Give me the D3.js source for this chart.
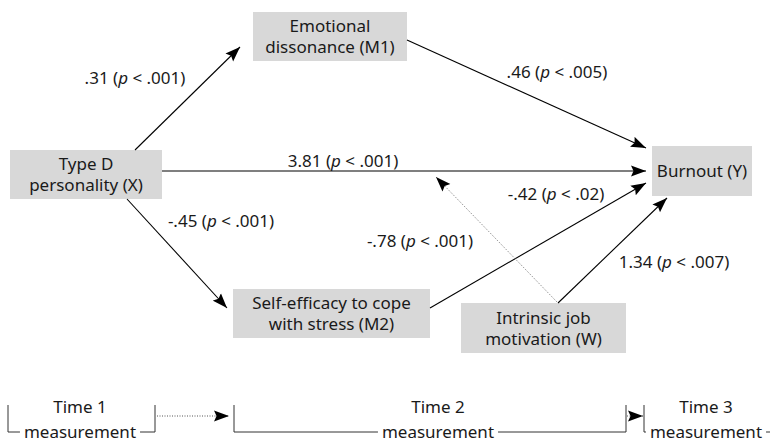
<!DOCTYPE html>
<html>
<head>
<meta charset="utf-8">
<script src="https://cdn.jsdelivr.net/npm/d3@7"></script>
<style>
  body { margin: 0; background: #fff; }
  svg text { font-family: "Noto Sans", sans-serif; font-size: 17px; fill: #1a1a1a; }
</style>
</head>
<body>
<div id="chart"></div>
<script>
// Variables in the moderated mediation model
const nodeIds = ['X', 'M1', 'M2', 'W', 'Y'];
const nodeLines = [
    ['Type D', 'personality (X)'],
    ['Emotional', 'dissonance (M1)'],
    ['Self-efficacy to cope', 'with stress (M2)'],
    ['Intrinsic job', 'motivation (W)'],
    ['Burnout (Y)']
];

// Paths and their coefficients
const pathFrom = ['X', 'M1', 'X', 'X', 'M2', 'W', 'W'];
const pathTo = ['M1', 'Y', 'Y', 'M2', 'Y', 'Y', 'XY'];
const pathCoef = ['.31', '.46', '3.81', '-.45', '-.42', '1.34', '-.78'];
const pathP = ['.001', '.005', '.001', '.001', '.02', '.007', '.001'];
const pathDotted = [false, false, false, false, false, false, true];

// Measurement times
const timeLabels = ['Time 1', 'Time 2', 'Time 3'];

// ---- layout (pixel positions, kept apart from the data) ----
const boxes = {
    X:  {x: 10,  y: 150, w: 152, h: 49},
    M1: {x: 253, y: 12,  w: 154, h: 49},
    M2: {x: 233, y: 289, w: 197, h: 49},
    W:  {x: 461, y: 303, w: 165, h: 50},
    Y:  {x: 652, y: 146, w: 100, h: 50}
};
const pathGeom = [
    {x1: 135, y1: 150, x2: 240, y2: 47,  lx: 135, ly: 84},
    {x1: 407, y1: 40,  x2: 646, y2: 148, lx: 557, ly: 78},
    {x1: 162, y1: 171, x2: 646, y2: 171, lx: 343, ly: 167},
    {x1: 127, y1: 199, x2: 227, y2: 308, lx: 221, ly: 227},
    {x1: 430, y1: 308, x2: 646, y2: 183, lx: 556, ly: 200},
    {x1: 558, y1: 303, x2: 667, y2: 198, lx: 674, ly: 268},
    {x1: 557, y1: 302, x2: 436, y2: 177, lx: 420, ly: 247}
];
const timeGeom = [
    {cx: 80,  left: 8,   right: 155, closed: true},
    {cx: 438, left: 234, right: 626, closed: true},
    {cx: 706, left: 644, right: 772, closed: false}
];

const width = 770, height = 442;
const svg = d3.select('#chart').append('svg')
    .attr('width', width)
    .attr('height', height);

// Arrowhead
svg.append('defs').append('marker')
    .attr('id', 'head')
    .attr('markerUnits', 'userSpaceOnUse')
    .attr('markerWidth', 16)
    .attr('markerHeight', 12)
    .attr('viewBox', '0 0 16 12')
    .attr('refX', 15)
    .attr('refY', 6)
    .attr('orient', 'auto')
    .append('path')
    .attr('d', 'M0,0.5 L15,6 L0,11.5 L2.5,6 Z')
    .attr('fill', '#000');

// Boxes
const nodes = svg.selectAll('g.node')
    .data(nodeIds)
    .enter()
    .append('g')
    .attr('class', 'node');

nodes.append('rect')
    .attr('x', d => boxes[d].x)
    .attr('y', d => boxes[d].y)
    .attr('width', d => boxes[d].w)
    .attr('height', d => boxes[d].h)
    .attr('fill', '#d8d8d8');

nodes.each(function(d, i) {
    const b = boxes[d];
    const lines = nodeLines[i];
    const cy = b.y + b.h / 2;
    const lh = 21;
    lines.forEach((t, j) => {
        d3.select(this).append('text')
            .attr('x', b.x + b.w / 2)
            .attr('y', cy + (j - (lines.length - 1) / 2) * lh + 6)
            .attr('text-anchor', 'middle')
            .text(t);
    });
});

// Paths
const paths = svg.selectAll('g.path')
    .data(pathCoef)
    .enter()
    .append('g')
    .attr('class', 'path');

paths.append('line')
    .attr('x1', (d, i) => pathGeom[i].x1)
    .attr('y1', (d, i) => pathGeom[i].y1)
    .attr('x2', (d, i) => pathGeom[i].x2)
    .attr('y2', (d, i) => pathGeom[i].y2)
    .attr('stroke', (d, i) => pathDotted[i] ? '#777' : '#000')
    .attr('stroke-width', (d, i) => pathDotted[i] ? 1 : 1.1)
    .attr('stroke-dasharray', (d, i) => pathDotted[i] ? '1,1.5' : null)
    .attr('marker-end', 'url(#head)');

const labels = paths.append('text')
    .attr('x', (d, i) => pathGeom[i].lx)
    .attr('y', (d, i) => pathGeom[i].ly)
    .attr('text-anchor', 'middle');
labels.append('tspan').text(d => d + ' (');
labels.append('tspan').attr('font-style', 'italic').text('p');
labels.append('tspan').text((d, i) => ' < ' + pathP[i] + ')');

// Timeline
const tl = svg.append('g').attr('class', 'timeline');
const yTop = 405, yBot = 432, yMid = 416;

timeLabels.forEach((t, i) => {
    const g = timeGeom[i];
    tl.append('text')
        .attr('x', g.cx).attr('y', 413)
        .attr('text-anchor', 'middle')
        .text(t);
    const m = tl.append('text')
        .attr('x', g.cx).attr('y', 438)
        .attr('text-anchor', 'middle')
        .text('measurement');
    const mw = m.node().getComputedTextLength();
    const a = g.cx - mw / 2 - 4, b = g.cx + mw / 2 + 4;
    tl.append('path')
        .attr('d', `M${g.left},${yTop}V${yBot}H${a}M${b},${yBot}H${g.right}` + (g.closed ? `V${yTop}` : ''))
        .attr('fill', 'none')
        .attr('stroke', '#333')
        .attr('stroke-width', 1);
});

// Arrows between times
[[157, 229], [627, 643]].forEach(([a, b]) => {
    tl.append('line')
        .attr('x1', a).attr('y1', yMid)
        .attr('x2', b).attr('y2', yMid)
        .attr('stroke', '#555')
        .attr('stroke-dasharray', '1,1.5')
        .attr('marker-end', 'url(#head)');
});
</script>
</body>
</html>
